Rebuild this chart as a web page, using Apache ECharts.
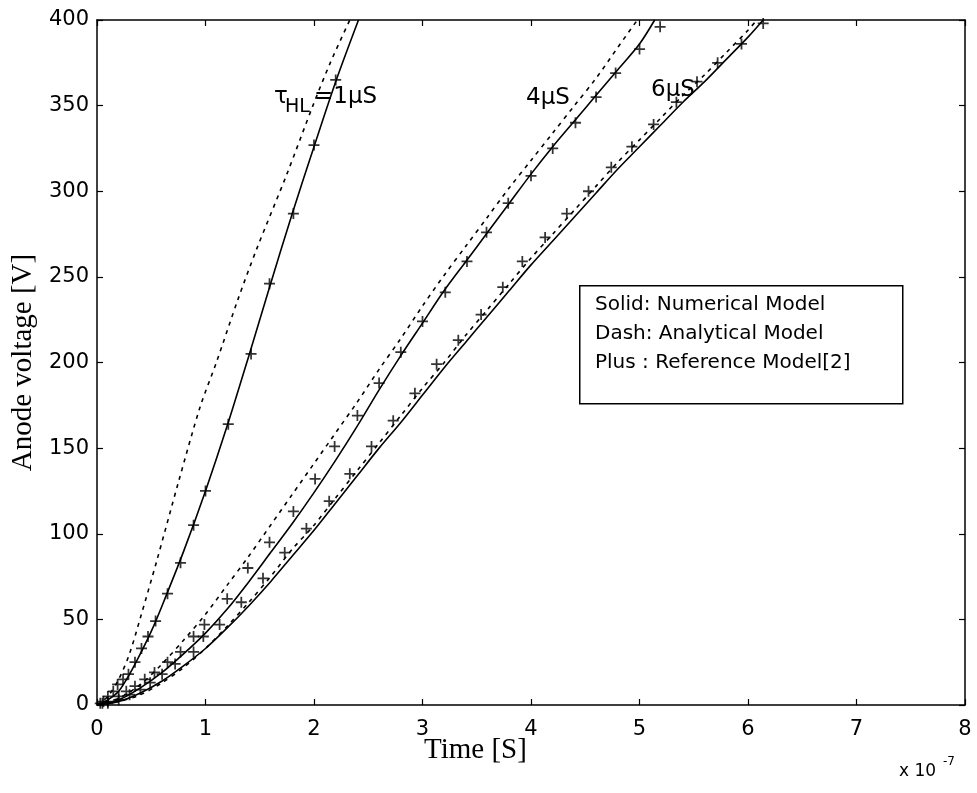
<!DOCTYPE html>
<html>
<head>
<meta charset="utf-8">
<title>Anode voltage</title>
<script src="https://cdn.jsdelivr.net/npm/echarts@6/dist/echarts.min.js"></script>
<style>
  html, body { margin: 0; padding: 0; background: #fff; }
  #main { width: 977px; height: 793px; }
</style>
</head>
<body>
<div id="main"></div>
<script>
// time in units of 1e-7 s, voltage in V

// tau_HL = 1 uS
const solid1 = [[0,0],[0.1,3],[0.2,8],[0.3,18],[0.4,30],[0.5,43],[0.6,58],[0.8,90],[1.0,125],[1.2,163],[1.4,204],[1.6,246],[1.8,287],[2.0,326],[2.2,364],[2.41,400]]
const dash1 = [[0,0],[0.1,5],[0.2,15],[0.3,30],[0.4,51],[0.55,84],[0.75,130],[0.95,174],[1.1,200],[1.3,237],[1.47,266],[1.75,310],[1.99,350],[2.15,375],[2.33,400]]
const plus1 = [[0.03,1],[0.06,2],[0.1,5],[0.15,8],[0.19,12],[0.24,15],[0.29,18],[0.35,25],[0.41,33],[0.47,40],[0.54,49],[0.65,65],[0.77,83],[0.89,105],[1.0,125],[1.21,164],[1.42,205],[1.59,246],[1.81,287],[2.0,327],[2.2,365]]

// tau_HL = 4 uS
const solid4 = [[0,0],[0.2,3],[0.4,10],[0.6,19],[0.8,30],[1.0,42],[1.2,56],[1.4,72],[1.6,89],[1.8,106],[2.0,124],[2.2,143],[2.4,163],[2.6,184],[2.8,204],[3.0,223],[3.2,242],[3.4,259],[3.6,276],[3.8,293],[4.0,310],[4.2,326],[4.4,341],[4.6,356],[4.8,371],[5.0,386],[5.14,400]]
const dash4 = [[0,0],[0.2,4],[0.4,12],[0.6,24],[0.8,38],[1.0,53],[1.2,70],[1.4,87],[1.6,105],[1.8,123],[2.0,141],[2.2,159],[2.4,177],[2.6,196],[2.8,214],[3.0,233],[3.2,251],[3.4,268],[3.6,285],[3.8,302],[4.0,318],[4.2,334],[4.4,350],[4.6,366],[4.8,384],[4.98,400]]
const plus4 = [[0.05,1],[0.1,2],[0.2,5],[0.27,8],[0.35,11],[0.44,15],[0.53,19],[0.65,25],[0.77,31],[0.89,40],[0.99,47],[1.2,62],[1.39,80],[1.59,95],[1.81,113],[2.01,132],[2.19,151],[2.4,169],[2.6,188],[2.8,206],[3.0,224],[3.21,241],[3.41,259],[3.59,276],[3.79,293],[4.0,309],[4.2,325],[4.41,340],[4.6,355],[4.78,369],[5.0,383],[5.19,396]]

// tau_HL = 6 uS
const solid6 = [[0,0],[0.2,2],[0.4,7],[0.6,14],[0.8,23],[1.0,33],[1.2,45],[1.4,58],[1.6,72],[1.8,87],[2.0,102],[2.2,118],[2.4,134],[2.6,150],[2.8,165],[3.0,181],[3.2,197],[3.4,212],[3.6,227],[3.8,242],[4.0,257],[4.2,271],[4.4,285],[4.6,299],[4.8,313],[5.0,326],[5.2,339],[5.4,352],[5.6,364],[5.8,377],[6.0,390],[6.14,400]]
const dash6 = [[0,0],[0.2,2],[0.4,6],[0.6,13],[0.8,22],[1.0,33],[1.2,46],[1.4,60],[1.6,75],[1.8,91],[2.0,105],[2.2,121],[2.4,137],[2.6,153],[2.8,169],[3.0,185],[3.2,200],[3.4,216],[3.6,231],[3.8,246],[4.0,261],[4.2,275],[4.4,289],[4.6,303],[4.8,317],[5.0,330],[5.2,343],[5.4,356],[5.6,368],[5.8,381],[6.0,394],[6.08,400]]
const plus6 = [[0.1,1],[0.2,3],[0.3,6],[0.4,9],[0.49,13],[0.6,18],[0.72,24],[0.89,31],[0.98,40],[1.13,47],[1.33,60],[1.53,74],[1.73,89],[1.93,103],[2.14,119],[2.33,135],[2.53,151],[2.73,166],[2.93,182],[3.13,199],[3.33,213],[3.54,228],[3.74,244],[3.92,259],[4.13,273],[4.33,287],[4.53,300],[4.74,314],[4.93,326],[5.13,339],[5.34,352],[5.53,364],[5.72,375],[5.94,386],[6.14,398]]

const legendLines = ['Solid: Numerical Model', 'Dash: Analytical Model', 'Plus : Reference Model[2]']

const chart = echarts.init(document.getElementById('main'))

const plusSymbol = 'path://M4.2,0H5.8V10H4.2Z M0,4.2H10V5.8H0Z'
const sans = 'DejaVu Sans'
const serif = 'Liberation Serif'

function lineSeries(data, dashed) {
  return {
    type: 'line',
    data: data,
    showSymbol: false,
    smooth: 0.3,
    silent: true,
    lineStyle: { color: '#000', width: 1.6, type: dashed ? [4, 5] : 'solid' },
    z: 3
  }
}
function plusSeries(data) {
  return {
    type: 'scatter',
    data: data,
    symbol: plusSymbol,
    symbolSize: 11,
    itemStyle: { color: '#000' },
    silent: true,
    z: 4
  }
}

const axisCommon = {
  axisLine: { show: true, onZero: false, lineStyle: { color: '#000', width: 1.5 } },
  axisTick: { show: true, inside: true, length: 6, lineStyle: { color: '#000', width: 1.2 } },
  splitLine: { show: false }
}

chart.setOption({
  backgroundColor: '#fff',
  animation: false,
  grid: { left: 97, right: 12, top: 20, bottom: 88, containLabel: false, outerBoundsMode: 'none' },
  xAxis: [
    Object.assign({
      type: 'value', min: 0, max: 8, interval: 1, position: 'bottom',
      axisLabel: { fontFamily: sans, fontSize: 21, color: '#000', margin: 14 }
    }, axisCommon),
    Object.assign({
      type: 'value', min: 0, max: 8, interval: 1, position: 'top',
      axisLabel: { show: false }
    }, axisCommon)
  ],
  yAxis: [
    Object.assign({
      type: 'value', min: 0, max: 400, interval: 50, position: 'left',
      name: 'Anode voltage [V]', nameLocation: 'middle', nameGap: 56,
      nameTextStyle: { fontFamily: serif, fontSize: 29, color: '#000' },
      axisLabel: { fontFamily: sans, fontSize: 21, color: '#000', margin: 8 }
    }, axisCommon),
    Object.assign({
      type: 'value', min: 0, max: 400, interval: 50, position: 'right',
      axisLabel: { show: false }
    }, axisCommon)
  ],
  series: [
    lineSeries(solid1, false), lineSeries(dash1, true), plusSeries(plus1),
    lineSeries(solid4, false), lineSeries(dash4, true), plusSeries(plus4),
    lineSeries(solid6, false), lineSeries(dash6, true), plusSeries(plus6)
  ],
  graphic: [
    { type: 'text', left: 424, top: 736, style: { text: 'Time [S]', fontFamily: serif, fontSize: 29, fill: '#000' } },
    { type: 'text', left: 899, top: 763, style: { text: 'x 10', fontFamily: sans, fontSize: 17, fill: '#000' } },
    { type: 'text', left: 943, top: 756, style: { text: '-7', fontFamily: sans, fontSize: 12, fill: '#000' } },
    { type: 'text', left: 274, top: 86, style: { text: 'τ', fontFamily: sans, fontSize: 23, fill: '#000' } },
    { type: 'text', left: 285, top: 98, style: { text: 'HL', fontFamily: sans, fontSize: 19, fill: '#000' } },
    { type: 'text', left: 314, top: 86, style: { text: '=1μS', fontFamily: sans, fontSize: 23, fill: '#000' } },
    { type: 'text', left: 526, top: 87, style: { text: '4μS', fontFamily: sans, fontSize: 23, fill: '#000' } },
    { type: 'text', left: 651, top: 79, style: { text: '6μS', fontFamily: sans, fontSize: 23, fill: '#000' } },
    {
      type: 'rect', left: 579, top: 285, z: 10,
      shape: { width: 323, height: 118 },
      style: { fill: '#fff', stroke: '#000', lineWidth: 1.5 }
    },
    {
      type: 'text', left: 595, top: 290, z: 11,
      style: { text: legendLines.join('\n'), fontFamily: sans, fontSize: 20, lineHeight: 29, fill: '#000' }
    }
  ]
})
</script>
</body>
</html>
